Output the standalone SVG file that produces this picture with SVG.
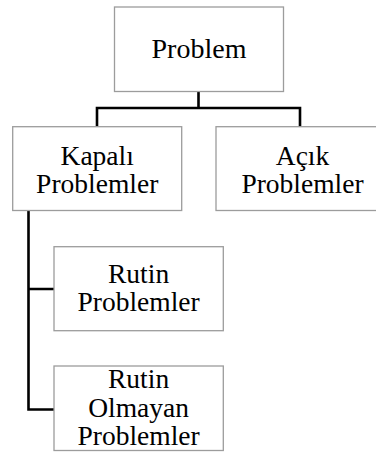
<svg xmlns="http://www.w3.org/2000/svg" width="376" height="453" viewBox="0 0 376 453">
<style>
.box{fill:#ffffff;stroke:#9c9c9c;stroke-width:1.3}
.t{font-family:"Liberation Serif","Times New Roman",serif;font-size:27.5px;fill:#000;text-anchor:middle}
.c{fill:none;stroke:#000;stroke-width:2.6}
</style>
<rect width="376" height="453" fill="#fff"/>
<g id="connectors">
<path class="c" d="M97,127 V108 H300 V127 M198.5,92 V108"/>
<path class="c" d="M28.5,211 V409.5 H54 M28.5,289 H54"/>
</g>
<g id="problem">
<rect class="box" x="114.5" y="7" width="169" height="84.5"/>
<text class="t" x="199" y="58.3" style="font-size:28px">Problem</text>
</g>
<g id="kapali">
<rect class="box" x="12.7" y="126.7" width="169" height="83.8"/>
<text class="t" x="97.2" y="164.5">Kapalı</text>
<text class="t" x="97.2" y="192.5">Problemler</text>
</g>
<g id="acik">
<rect class="box" x="216" y="126.7" width="169" height="83.8"/>
<text class="t" x="302.5" y="164.5">Açık</text>
<text class="t" x="302.5" y="192.5">Problemler</text>
</g>
<g id="rutin">
<rect class="box" x="54" y="246.7" width="169.3" height="84"/>
<text class="t" x="138.6" y="282.7">Rutin</text>
<text class="t" x="138.6" y="311">Problemler</text>
</g>
<g id="rutin-olmayan">
<rect class="box" x="54" y="366" width="169.3" height="84.5"/>
<text class="t" x="138.6" y="388.3">Rutin</text>
<text class="t" x="138.6" y="416.7">Olmayan</text>
<text class="t" x="138.6" y="445">Problemler</text>
</g>
</svg>
